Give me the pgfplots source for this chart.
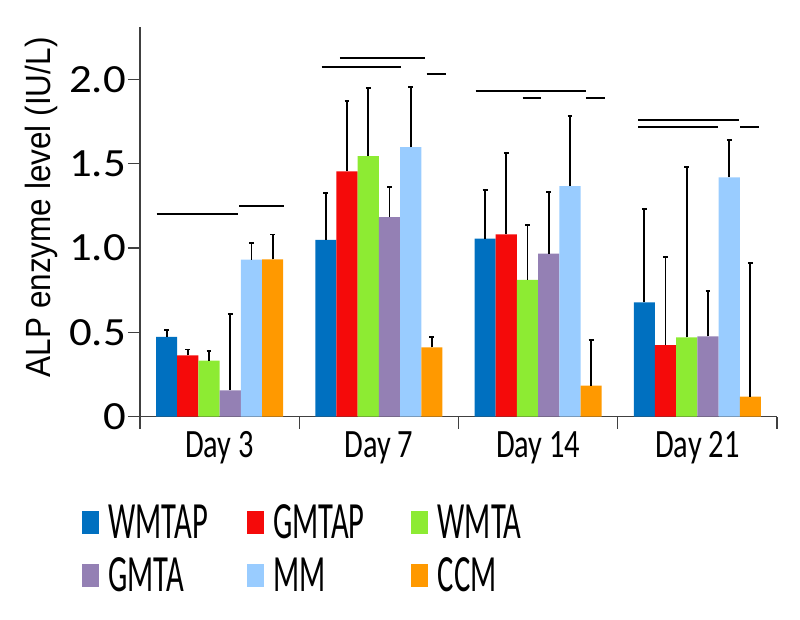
\documentclass[border=0pt]{standalone}
\usepackage{fontspec}
\setmainfont{Carlito}
\newfontfamily\legfont{Carlito}[FakeStretch=0.585]
\newfontfamily\xfont{Carlito}[FakeStretch=0.757]
\newfontfamily\yfont{Carlito}[FakeStretch=1.12]
\newfontfamily\labfont{Liberation Sans}[FakeStretch=0.9]
\usepackage{pgfplots}
\usepackage{pgfplotstable}
\pgfplotsset{compat=1.18}

\definecolor{cWMTAP}{HTML}{0070C0}
\definecolor{cGMTAP}{HTML}{F50A0A}
\definecolor{cWMTA}{HTML}{8DEB33}
\definecolor{cGMTA}{HTML}{9480B4}
\definecolor{cMM}{HTML}{99CCFF}
\definecolor{cCCM}{HTML}{FF9900}
\definecolor{axisgray}{HTML}{404040}
\tikzset{sig/.style={line width=2pt, black}}

% mean and (upper) error per group
\pgfplotstableread{
x WMTAP WMTAPe GMTAP GMTAPe WMTA WMTAe GMTA GMTAe MM MMe CCM CCMe
0 0.473 0.043 0.364 0.035 0.332 0.059 0.156 0.455 0.931 0.101 0.933 0.147
1 1.048 0.281 1.455 0.415 1.546 0.405 1.184 0.180 1.599 0.356 0.411 0.060
2 1.056 0.288 1.081 0.483 0.811 0.324 0.967 0.364 1.368 0.415 0.184 0.273
3 0.678 0.554 0.425 0.522 0.471 1.010 0.476 0.271 1.420 0.223 0.119 0.792
}\alp

\begin{document}
\begin{tikzpicture}
\useasboundingbox (0,0) rectangle (800pt,620pt);
\begin{axis}[
    at={(140pt,203.3pt)}, anchor=south west,
    scale only axis, width=637pt, height=390pt,
    xmin=-0.5, xmax=3.5, ymin=0, ymax=2.313,
    axis lines*=left,
    axis line style={color=axisgray, line width=1.3pt},
    ybar=0pt, bar width=21.2pt,
    xtick={-0.5,0.5,1.5,2.5,3.5}, xticklabels={},
    extra x ticks={0,1,2,3},
    extra x tick labels={Day 3,Day 7,Day 14,Day 21},
    extra x tick style={major tick length=0pt},
    ytick={0,0.5,1,1.5,2}, yticklabels={0,0.5,1.0,1.5,2.0},
    tick align=outside, major tick length=12pt,
    tick style={color=axisgray, line width=1.3pt},
    /pgf/number format/assume math mode=true,
    xticklabel style={font=\xfont\fontsize{40.2}{46}\selectfont, inner sep=0pt, yshift=-14.6pt},
    yticklabel style={font=\yfont\fontsize{40}{46}\selectfont, inner sep=0pt, xshift=-2pt},
    ylabel={ALP enzyme level (IU/L)},
    ylabel style={font=\labfont\fontsize{35}{40}\selectfont, at={(axis description cs:-0.154,0.537)}, anchor=center},
    error bars/y dir=plus, error bars/y explicit,
    error bars/error bar style={line width=1.8pt, black},
    error bars/error mark options={rotate=90, mark size=2.4pt, line width=1.8pt, black},
    bl/.style={fill=#1, draw=none,
      legend image code/.code={\fill[fill=#1] (0pt,-11.5pt) rectangle (17.3pt,11.5pt);}},
    legend columns=3,
    legend cell align=left,
    legend style={draw=none, fill=none, inner sep=0pt,
      at={(axis description cs:-0.0915,-0.226)}, anchor=north west,
      font=\legfont\fontsize{52.3}{58}\selectfont,
      nodes={inner sep=0pt, text width=138pt, align=left},
      /tikz/every odd column/.append style={column sep=9.3pt},
      row sep=17pt},
  ]
  \addplot[bl=cWMTAP] table[x=x, y=WMTAP, y error=WMTAPe] {\alp};
  \addplot[bl=cGMTAP] table[x=x, y=GMTAP, y error=GMTAPe] {\alp};
  \addplot[bl=cWMTA]  table[x=x, y=WMTA,  y error=WMTAe]  {\alp};
  \addplot[bl=cGMTA]  table[x=x, y=GMTA,  y error=GMTAe]  {\alp};
  \addplot[bl=cMM]    table[x=x, y=MM,    y error=MMe]    {\alp};
  \addplot[bl=cCCM]   table[x=x, y=CCM,   y error=CCMe]   {\alp};
  \legend{WMTAP,GMTAP,WMTA,GMTA,MM,CCM}

  % significance bars
  \draw[sig] (axis cs:-0.395,1.202) -- (axis cs:0.117,1.202);
  \draw[sig] (axis cs:0.123,1.251) -- (axis cs:0.404,1.251);
  \draw[sig] (axis cs:0.641,2.074) -- (axis cs:1.138,2.074);
  \draw[sig] (axis cs:0.755,2.126) -- (axis cs:1.289,2.126);
  \draw[sig] (axis cs:1.300,2.034) -- (axis cs:1.421,2.034);
  \draw[sig] (axis cs:1.607,1.932) -- (axis cs:2.298,1.932);
  \draw[sig] (axis cs:1.902,1.892) -- (axis cs:2.015,1.892);
  \draw[sig] (axis cs:2.300,1.892) -- (axis cs:2.421,1.892);
  \draw[sig] (axis cs:2.628,1.758) -- (axis cs:3.262,1.758);
  \draw[sig] (axis cs:2.628,1.718) -- (axis cs:3.130,1.718);
  \draw[sig] (axis cs:3.268,1.718) -- (axis cs:3.388,1.718);
\end{axis}
\end{tikzpicture}
\end{document}
